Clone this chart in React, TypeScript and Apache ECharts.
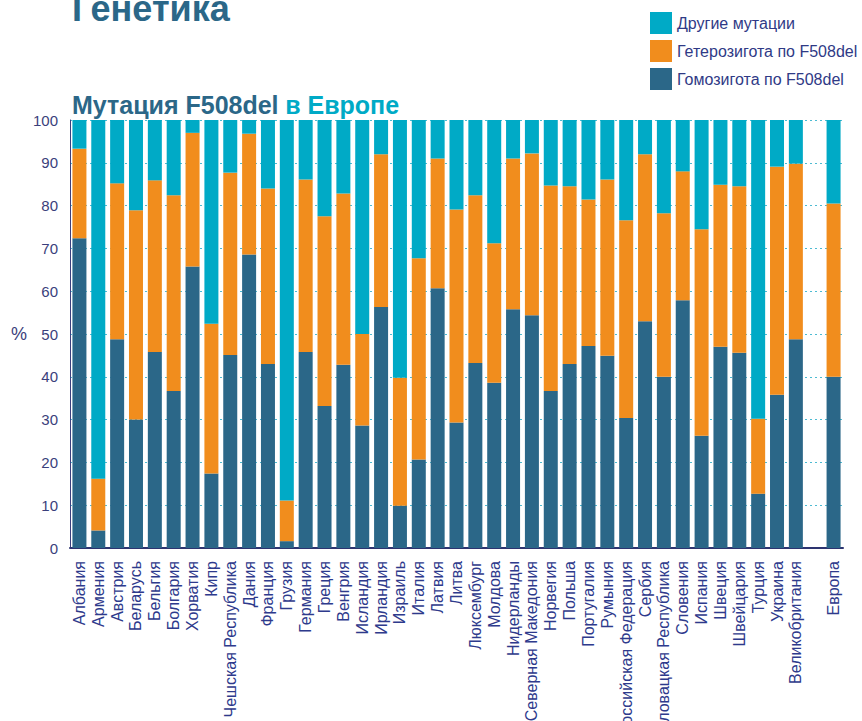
import React, { useEffect, useRef } from "react";
import * as echarts from "echarts";

const categories = [
  "Албания", "Армения", "Австрия", "Беларусь", "Бельгия", "Болгария", "Хорватия", "Кипр",
  "Чешская Республика", "Дания", "Франция", "Грузия", "Германия", "Греция", "Венгрия",
  "Исландия", "Ирландия", "Израиль", "Италия", "Латвия", "Литва", "Люксембург", "Молдова",
  "Нидерланды", "Северная Македония", "Норвегия", "Польша", "Португалия", "Румыния",
  "Российская Федерация", "Сербия", "Словацкая Республика", "Словения", "Испания", "Швеция",
  "Швейцария", "Турция", "Украина", "Великобритания", "", "Европа",
];

const homozygous = [
  72.4, 4.1, 48.8, 30.0, 45.8, 36.7, 65.8, 17.4, 45.1, 68.6, 43.0, 1.6, 45.8, 33.2, 42.8,
  28.6, 56.3, 9.9, 20.7, 60.7, 29.3, 43.2, 38.6, 55.8, 54.4, 36.7, 43.0, 47.2, 44.9, 30.4,
  53.0, 40.0, 57.9, 26.2, 47.0, 45.6, 12.7, 35.8, 48.8, null, 40.0,
];

const heterozygous = [
  20.9, 12.1, 36.4, 48.9, 40.1, 45.7, 31.2, 35.0, 42.6, 28.2, 41.0, 9.5, 40.3, 44.3, 40.0,
  21.4, 35.7, 29.9, 47.0, 30.3, 49.8, 39.2, 32.6, 35.2, 37.8, 48.0, 41.5, 34.2, 41.2, 46.2,
  39.0, 38.2, 30.1, 48.3, 37.9, 38.9, 17.5, 53.3, 41.0, null, 40.5,
];

const otherMutations = [
  6.7, 83.8, 14.8, 21.1, 14.1, 17.6, 3.0, 47.6, 12.3, 3.2, 16.0, 88.9, 13.9, 22.5, 17.2,
  50.0, 8.0, 60.2, 32.3, 9.0, 20.9, 17.6, 28.8, 9.0, 7.8, 15.3, 15.5, 18.6, 13.9, 23.4,
  8.0, 21.8, 12.0, 25.5, 15.1, 15.5, 69.8, 10.9, 10.2, null, 19.5,
];

const seriesNames = ["Гомозигота по F508del", "Гетерозигота по F508del", "Другие мутации"];
const colors = ["#2B6788", "#F18D1D", "#00AAC6"];

const FONT = "'Liberation Sans', Arial, sans-serif";

export default function App() {
  const ref = useRef<HTMLDivElement>(null);

  useEffect(() => {
    if (!ref.current) return;
    const chart = echarts.init(ref.current, null, { renderer: "svg" });
    const dataSets = [homozygous, heterozygous, otherMutations];
    chart.setOption({
      animation: false,
      textStyle: { fontFamily: FONT },
      graphic: [
        {
          type: "text",
          left: 72,
          top: 10,
          style: {
            text: "Генетика",
            fill: "#2B6788",
            font: `bold 36px ${FONT}`,
          },
        },
        {
          type: "text",
          left: 72,
          top: 112,
          style: {
            text: "{a|Мутация F508del}  {b|в Европе}",
            rich: {
              a: { fill: "#2B6788", fontSize: 25, fontWeight: "bold", fontFamily: FONT },
              b: { fill: "#00AAC6", fontSize: 25, fontWeight: "bold", fontFamily: FONT },
            },
          },
        },
      ],
      legend: {
        orient: "vertical",
        left: 650,
        top: 32,
        padding: 0,
        itemWidth: 22,
        itemHeight: 22,
        itemGap: 6,
        icon: "rect",
        data: [seriesNames[2], seriesNames[1], seriesNames[0]],
        textStyle: { color: "#2F3A86", fontSize: 16, fontFamily: FONT },
      },
      grid: { left: 70, right: 19, top: 140, bottom: 232, containLabel: false },
      xAxis: {
        type: "category",
        data: categories,
        axisLine: { lineStyle: { color: "#2D3470", width: 2 } },
        axisTick: { show: false },
        axisLabel: {
          rotate: 90,
          interval: 0,
          color: "#2E3A8C",
          fontSize: 16,
          fontFamily: FONT,
          margin: 13,
        },
      },
      yAxis: {
        type: "value",
        min: 0,
        max: 100,
        interval: 10,
        name: "%",
        nameLocation: "middle",
        nameRotate: 0,
        nameGap: 43,
        nameTextStyle: { color: "#3B3F7C", fontSize: 18, fontFamily: FONT },
        axisLine: { show: true, lineStyle: { color: "#3B3F7C", width: 1 } },
        axisTick: { show: false },
        axisLabel: { color: "#3B3F7C", fontSize: 15, fontFamily: FONT, margin: 12 },
        splitLine: { lineStyle: { color: "#4DBBD2", type: [2, 3], width: 1 } },
      },
      series: seriesNames.map((name, i) => ({
        name,
        type: "bar",
        stack: "total",
        barWidth: 14,
        data: dataSets[i],
        itemStyle: { color: colors[i] },
      })),
    });
    return () => chart.dispose();
  }, []);

  return (
    <div
      style={{
        position: "fixed",
        top: 0,
        left: 0,
        width: 862,
        height: 721,
        overflow: "hidden",
        background: "#fff",
      }}
    >
      <div
        ref={ref}
        style={{ position: "absolute", top: -20, left: 0, width: 862, height: 800 }}
      />
    </div>
  );
}
